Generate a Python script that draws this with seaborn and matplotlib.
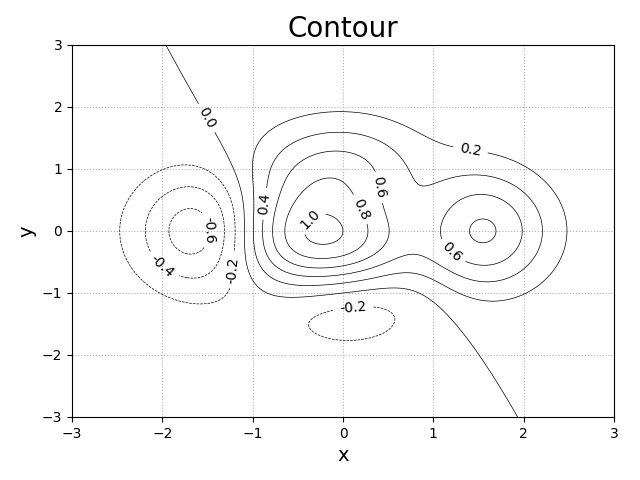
import numpy as np
import matplotlib
matplotlib.use("Agg")
import matplotlib.pyplot as plt
import seaborn as sns

# grid extents and contour levels
x_range = [-3.0, 3.0]
y_range = [-3.0, 3.0]
n_points = 500
levels = [-0.6, -0.4, -0.2, 0.0, 0.2, 0.4, 0.6, 0.8, 1.0]
ticks = [-3, -2, -1, 0, 1, 2, 3]

sns.set_style("ticks", {
    "axes.edgecolor": "black",
    "xtick.color": "black",
    "ytick.color": "black",
    "text.color": "black",
    "axes.labelcolor": "black",
    "axes.grid": True,
    "grid.color": "#b0b0b0",
    "grid.linestyle": ":",
})
plt.rcParams["font.family"] = ["DejaVu Sans"]

x = np.linspace(x_range[0], x_range[1], n_points)
y = np.linspace(y_range[0], y_range[1], n_points)
X, Y = np.meshgrid(x, y)
Z = (1 - X / 2 + X**5 + Y**3) * np.exp(-X**2 - Y**2)

fig, ax = plt.subplots(figsize=(6.4, 4.8), dpi=100)
cs = ax.contour(X, Y, Z, levels=levels, colors="black", linewidths=0.5)
ax.clabel(cs, inline=True, fontsize=10, fmt="%.1f")

ax.set_xlim(x_range)
ax.set_ylim(y_range)
ax.set_xticks(ticks)
ax.set_yticks(ticks)
ax.tick_params(labelsize=10, length=3.5, width=0.8)
ax.grid(True, linestyle=":", color="#b0b0b0", linewidth=0.8)
ax.set_title("Contour", fontsize=20)
ax.set_xlabel("x", fontsize=14)
ax.set_ylabel("y", fontsize=14)

fig.subplots_adjust(left=72 / 640, right=614 / 640, top=1 - 45 / 480, bottom=1 - 417 / 480)
plt.savefig("out.png")
